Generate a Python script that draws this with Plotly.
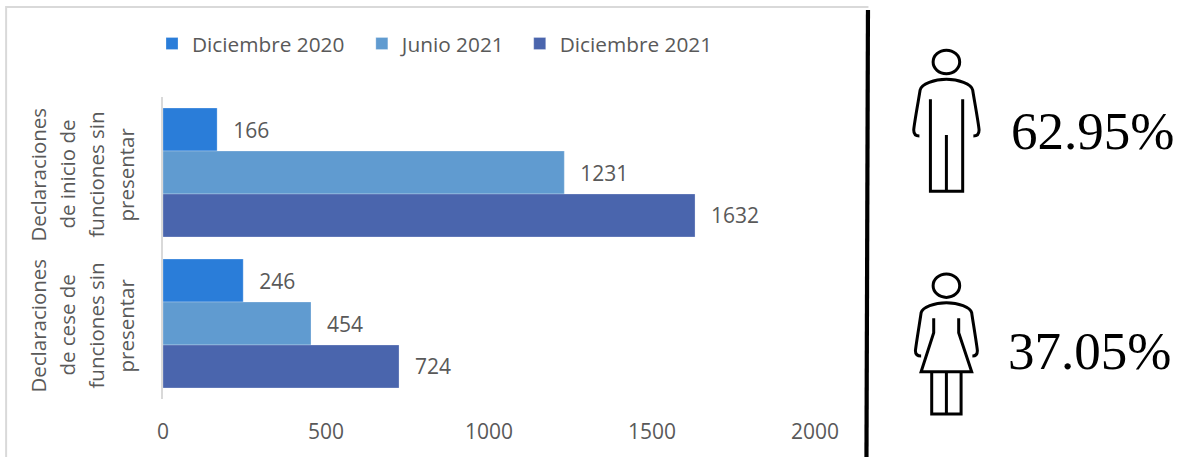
import plotly.graph_objects as go

W, H = 1181, 457
# ---- data ----
categories = ["Declaraciones de inicio de funciones sin presentar",
              "Declaraciones de cese de funciones sin presentar"]
category_lines = [["Declaraciones", "de inicio de", "funciones sin", "presentar"],
                  ["Declaraciones", "de cese de", "funciones sin", "presentar"]]
series_names = ["Diciembre 2020", "Junio 2021", "Diciembre 2021"]
dic_2020 = [166, 246]
jun_2021 = [1231, 454]
dic_2021 = [1632, 724]
series_values = [dic_2020, jun_2021, dic_2021]
series_colors = ["#2A7DD9", "#609BD0", "#4A65AD"]
x_ticks = [0, 500, 1000, 1500, 2000]
shares = ["62.95%", "37.05%"]

FONT = "Open Sans"
GREY = "#595959"
L, R, T, B = 163, 815.5, 97, 399

def px(x):
    return (x - L) / (R - L)

def py(y):
    return (B - y) / (B - T)

def path(points):
    return "M " + " L ".join(f"{px(x):.5f},{py(y):.5f}" for x, y in points)

def curve(start, segs):
    s = f"M {px(start[0]):.5f},{py(start[1]):.5f}"
    for a, b, c, d, e, f_ in segs:
        s += f" C {px(a):.5f},{py(b):.5f} {px(c):.5f},{py(d):.5f} {px(e):.5f},{py(f_):.5f}"
    return s

legend_ids = ["legend", "legend2", "legend3"]
legend_text_x = [192, 402, 560]

fig = go.Figure()
for name, vals, col, lid in zip(series_names, series_values, series_colors, legend_ids):
    fig.add_trace(go.Bar(
        name=name, y=categories, x=vals, orientation="h", legend=lid, showlegend=True,
        marker=dict(color=col, line=dict(width=1, color="rgba(255,255,255,0.25)")),
        text=vals, texttemplate="\u00a0\u00a0\u200a%{x}", textposition="outside",
        textfont=dict(family=FONT, size=21, color=GREY), cliponaxis=False,
    ))

shapes = []
def line_shape(d, color="black", width=3):
    shapes.append(dict(type="path", xref="paper", yref="paper", path=d,
                       line=dict(color=color, width=width), layer="above"))

def ellipse(cx, cy, rx, ry):
    shapes.append(dict(type="circle", xref="paper", yref="paper",
                       x0=px(cx - rx), x1=px(cx + rx), y0=py(cy + ry), y1=py(cy - ry),
                       line=dict(color="black", width=3)))

# frame and divider
line_shape(path([(6, 457), (6, 7), (869, 7)]), "#D9D9D9", 2)
line_shape(path([(868.5, 10), (867, 457)]), "black", 4.2)

# male icon
ellipse(947, 62, 13.3, 11.7)
line_shape(curve((920, 136), [(914.3, 136, 914.3, 132, 914.3, 130),
                              (914.5, 125, 920, 95, 920.7, 90),
                              (922, 84, 935, 79.3, 947, 79.3),
                              (959, 79.3, 972, 84, 973.3, 90),
                              (974, 95, 979.5, 125, 979.7, 130),
                              (979.7, 132, 979.7, 136, 974, 136)]))
line_shape(path([(931, 99.3), (931, 191.3), (963.3, 191.3), (963.3, 99.3)]))
line_shape(path([(947, 135), (947, 191.3)]))

# female icon
ellipse(947, 285.7, 13.3, 11.7)
line_shape(curve((921.7, 356), [(916, 356, 916, 352, 916, 350.7),
                                (916.5, 345, 921, 318, 921.7, 312.7),
                                (923, 307, 935, 302.7, 947, 302.7),
                                (959, 302.7, 971, 307, 972.3, 312.7),
                                (973, 318, 977.5, 345, 978, 350.7),
                                (978, 352, 978, 356, 973, 356)]))
line_shape(path([(934.3, 318.3), (934.3, 332.7), (921.7, 371.7), (972.3, 371.7),
                 (959.3, 332.7), (959.3, 318.3)]))
line_shape(path([(932.3, 371.7), (932.3, 414), (961.7, 414), (961.7, 371.7)]))
line_shape(path([(947, 371.7), (947, 414)]))

annotations = []
line_x = [37, 66, 95, 125]
for cat, lines in zip(categories, category_lines):
    for lx, txt in zip(line_x, lines):
        annotations.append(dict(text=txt, xref="paper", x=px(lx), yref="y", y=cat, yshift=-2,
                                textangle=-90, showarrow=False, xanchor="center", yanchor="middle",
                                font=dict(family=FONT, size=20.5, color=GREY)))
for txt, xc, yc in zip(shares, [1093.5, 1090], [131, 351]):
    annotations.append(dict(text=txt, xref="paper", yref="paper", x=px(xc), y=py(yc),
                            showarrow=False, xanchor="center", yanchor="middle",
                            font=dict(family="Liberation Serif", size=53, color="black")))

legends = {
    lid: dict(orientation="h", x=px(tx - 40), xanchor="left", y=py(44), yanchor="middle",
              font=dict(family=FONT, size=20.8, color=GREY), bgcolor="rgba(0,0,0,0)")
    for lid, tx in zip(legend_ids, legend_text_x)
}

fig.update_layout(
    width=W, height=H, autosize=False, showlegend=True,
    margin=dict(l=L, r=W - R, t=T, b=H - B, pad=0),
    paper_bgcolor="white", plot_bgcolor="white",
    barmode="group", bargap=0.146, bargroupgap=0,
    shapes=shapes, annotations=annotations,
    font=dict(family=FONT, size=20, color=GREY),
    xaxis=dict(range=[0, 2000], tickvals=x_ticks, showgrid=False, zeroline=False, showline=False,
               ticks="", ticklabelstandoff=18, tickfont=dict(family=FONT, size=21, color=GREY)),
    yaxis=dict(autorange="reversed", showticklabels=False, showgrid=False, zeroline=False,
               showline=True, linecolor="#D9D9D9", linewidth=2, ticks=""),
    **legends,
)

fig.write_html("out.html", config={"displayModeBar": False},
               post_script="document.body.style.margin='0';document.body.style.overflow='hidden';")
